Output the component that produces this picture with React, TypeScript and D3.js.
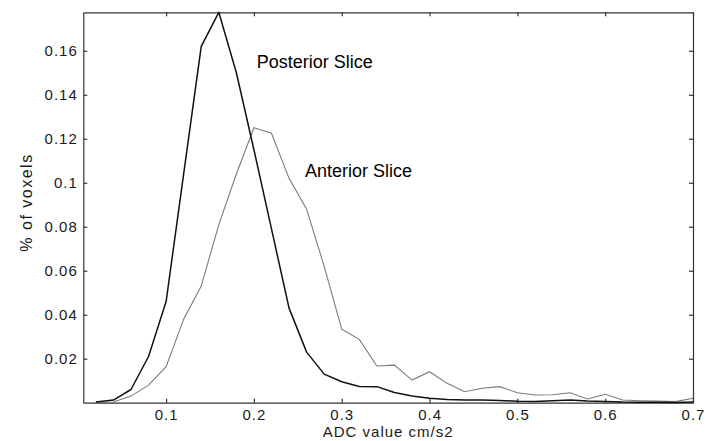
import React, { useEffect, useRef } from 'react';
import * as d3 from 'd3';

// ADC bins (cm/s2) and % of voxels per bin
const adcBins = [0.02, 0.04, 0.06, 0.08, 0.1, 0.12, 0.14, 0.16, 0.18, 0.2, 0.22, 0.24, 0.26, 0.28, 0.3,
  0.32, 0.34, 0.36, 0.38, 0.4, 0.42, 0.44, 0.46, 0.48, 0.5, 0.52, 0.54, 0.56, 0.58, 0.6, 0.62, 0.64,
  0.66, 0.68, 0.7];
const posterior = [0.0003, 0.0012, 0.006, 0.021, 0.046, 0.104, 0.162, 0.1775, 0.15, 0.115, 0.079, 0.043,
  0.023, 0.013, 0.0095, 0.0074, 0.0073, 0.0046, 0.003, 0.002, 0.0015, 0.0012, 0.0012, 0.001, 0.0007,
  0.0006, 0.0009, 0.0012, 0.0008, 0.0006, 0.0003, 0.0002, 0.0002, 0.0001, 0.0003];
const anterior = [0, 0.0003, 0.003, 0.008, 0.0164, 0.038, 0.053, 0.081, 0.104, 0.125, 0.1225, 0.102,
  0.088, 0.062, 0.0334, 0.0288, 0.0167, 0.0171, 0.0103, 0.0141, 0.0088, 0.005, 0.0066, 0.0073, 0.0045,
  0.0035, 0.0036, 0.0045, 0.0017, 0.0038, 0.0012, 0.0009, 0.0007, 0.0005, 0.002];
const xTicks = [0.1, 0.2, 0.3, 0.4, 0.5, 0.6, 0.7];
const yTicks = [0.02, 0.04, 0.06, 0.08, 0.1, 0.12, 0.14, 0.16];

const W = 717;
const H = 441;
const margin = { top: 12.3, right: 24, bottom: 38.3, left: 83.3 };

export default function App() {
  const ref = useRef<SVGSVGElement>(null);

  useEffect(() => {
    const svg = d3.select(ref.current);
    svg.selectAll('*').remove();
    const w = W - margin.left - margin.right;
    const h = H - margin.top - margin.bottom;

    const x = d3.scaleLinear().domain([0.0057, 0.7]).range([0, w]);
    const y = d3.scaleLinear().domain([0, 0.1775]).range([h, 0]);

    const g = svg.append('g').attr('transform', `translate(${margin.left},${margin.top})`);
    const font = (sel: any) => sel
      .attr('font-family', '"Liberation Sans", Arial, sans-serif')
      .attr('font-size', 15)
      .attr('letter-spacing', '1px')
      .attr('fill', '#1a1a1a');

    const style = (sel: any) => {
      sel.select('.domain').attr('stroke', '#333').attr('stroke-width', 1.2);
      sel.selectAll('.tick line').attr('stroke', '#333').attr('stroke-width', 1.2);
    };

    g.append('g').attr('transform', `translate(0,${h})`)
      .call(d3.axisBottom(x).tickValues(xTicks).tickSize(-4).tickSizeOuter(0).tickPadding(7)
        .tickFormat((d: any) => String(d)))
      .call(style)
      .call((a: any) => font(a.selectAll('text')));

    g.append('g')
      .call(d3.axisLeft(y).tickValues(yTicks).tickSize(-4).tickSizeOuter(0).tickPadding(5.5)
        .tickFormat((d: any) => String(d)))
      .call(style)
      .call((a: any) => font(a.selectAll('text')));

    g.append('g')
      .call(d3.axisTop(x).tickValues(xTicks).tickSize(-4).tickSizeOuter(0).tickFormat(() => ''))
      .call(style);

    g.append('g').attr('transform', `translate(${w},0)`)
      .call(d3.axisRight(y).tickValues(yTicks).tickSize(-4).tickSizeOuter(0).tickFormat(() => ''))
      .call(style);

    g.selectAll('.domain').attr('fill', 'none');
    svg.selectAll('g').attr('font-family', null).attr('font-size', null);

    const line = d3.line<number>()
      .x((_d, i) => x(adcBins[i]))
      .y(d => y(d));

    g.append('path').datum(anterior)
      .attr('d', line)
      .attr('fill', 'none')
      .attr('stroke', '#7a7a7a')
      .attr('stroke-width', 1.1);

    g.append('path').datum(posterior)
      .attr('d', line)
      .attr('fill', 'none')
      .attr('stroke', '#111')
      .attr('stroke-width', 1.5)
      .attr('stroke-linejoin', 'round');

    // series annotations
    svg.append('text').attr('x', 256.7).attr('y', 68.3)
      .attr('font-family', '"Liberation Sans", Arial, sans-serif').attr('font-size', 18)
      .attr('fill', '#000').text('Posterior Slice');
    svg.append('text').attr('x', 305).attr('y', 176.7)
      .attr('font-family', '"Liberation Sans", Arial, sans-serif').attr('font-size', 18)
      .attr('fill', '#000').text('Anterior Slice');

    // axis titles
    font(svg.append('text'))
      .attr('x', margin.left + w / 2).attr('y', 437)
      .attr('text-anchor', 'middle')
      .text('ADC value cm/s2');
    font(svg.append('text'))
      .attr('transform', `translate(32,${margin.top + h / 2 - 5}) rotate(-90)`)
      .attr('text-anchor', 'middle')
      .attr('font-size', 16)
      .attr('letter-spacing', '1.5px')
      .text('% of voxels');
  }, []);

  return (
    <svg ref={ref} width={W} height={H}
      style={{ position: 'absolute', left: 0, top: 0, background: '#fff' }} />
  );
}
